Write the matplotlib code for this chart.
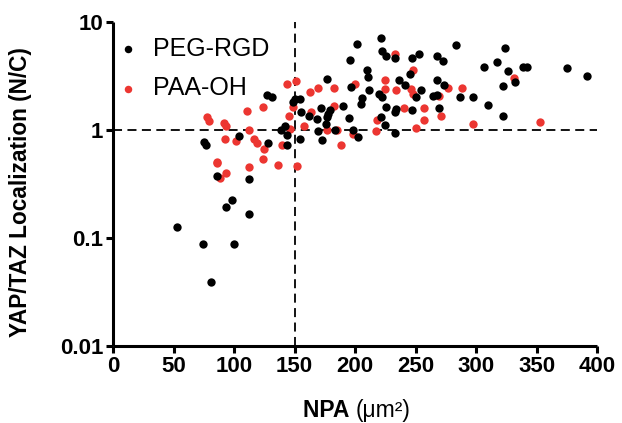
import matplotlib
matplotlib.use("Agg")
import matplotlib.pyplot as plt
from matplotlib.ticker import FixedLocator, FixedFormatter, NullLocator

plt.rcParams['font.family'] = ['Liberation Sans', 'DejaVu Sans']

# PEG-RGD (black)
peg_x = [52.6, 74.1, 100, 80.7, 93.4, 98.3, 112.1, 85.4, 112.4, 75.2, 76.3, 103.9, 128.1,
         127, 131.4, 142, 139, 144, 143.5, 150, 154, 149, 155.6, 154, 172.1, 179.3, 190.3,
         162.2, 168.3, 176.6, 175.5, 177.7, 168.9, 183.2, 194.8, 198.1, 202.5, 172.7,
         177.1, 201.4, 195.9, 221, 222, 225.6, 209.6, 210.7, 196.4, 211.8, 206, 205, 220.1,
         222.5, 225.6, 224.5, 232.8, 247.1, 252.6, 267.5, 273, 283.5, 306.6, 245.5, 236.1,
         241, 254.3, 267.5, 273.6, 264.2, 268, 250.4, 286.8, 297.3, 233.9, 232.8, 246.6,
         269.1, 310, 221.2, 232.8, 323.7, 317.1, 326.4, 338.6, 341.9, 374.9, 391.5, 332,
         322, 322]
peg_y = [0.127, 0.088, 0.088, 0.039, 0.195, 0.225, 0.167, 0.375, 0.354, 0.77, 0.73, 0.88, 0.76,
         2.12, 2.03, 1.10, 1.00, 0.90, 0.73, 1.95, 1.95, 1.80, 1.48, 0.82, 1.59, 1.52, 1.68,
         1.34, 1.26, 1.32, 1.14, 1.42, 0.98, 1.01, 1.28, 1.01, 0.87, 0.80,
         2.97, 6.3, 4.48, 7.1, 5.35, 4.88, 3.62, 3.1, 2.5, 2.33, 1.98, 1.75, 2.17,
         2.0, 1.63, 1.11, 4.68, 4.68, 5.02, 4.88, 4.35, 6.13, 3.83, 3.32, 2.92,
         2.61, 2.36, 2.88, 2.61, 2.08, 2.11, 2.02, 2.02, 2.02, 1.56, 1.46, 1.52,
         1.59, 1.69, 1.32, 0.94, 5.7, 4.23, 3.52, 3.83, 3.83, 3.72, 3.18, 2.77,
         2.57, 1.34]

# PAA-OH (red)
paa_x = [151.2, 143.5, 123.7, 110.5, 77.9, 79, 91.2, 93.4, 112.1, 92.6, 101.7, 116, 118.7,
         124.8, 139.7, 146, 145.7, 149, 85.7, 86, 93.1, 87.9, 112.1, 124.2, 136.4, 152.3,
         162.8, 168.9, 182.6, 200.2, 225, 225, 157.3, 163.4, 182.6, 176.6, 185.4, 188.7,
         198.1, 217.4, 218.4, 233.3, 247.7, 233.9, 246, 247.7, 276.9, 288.4, 269.1, 240.5,
         257, 257, 271.3, 250.4, 297.8, 331.4, 352.9]
paa_y = [2.87, 2.66, 1.64, 1.49, 1.33, 1.20, 1.17, 1.10, 1.01, 0.82, 0.79, 0.83, 0.75,
         0.67, 0.72, 1.02, 1.35, 1.62, 0.51, 0.49, 0.40, 0.36, 0.457, 0.543, 0.477, 0.46,
         2.23, 2.43, 2.43, 2.65, 2.92, 2.40, 1.08, 1.48, 1.66, 1.01, 1.01, 0.72,
         0.91, 0.98, 1.23, 5.10, 3.57, 2.33, 2.40, 2.14, 2.43, 2.43, 2.08, 1.59,
         1.59, 1.23, 1.34, 1.04, 1.14, 3.05, 1.18]

x_ticks = [0, 50, 100, 150, 200, 250, 300, 350, 400]
y_ticks = [0.01, 0.1, 1, 10]
y_tick_labels = ["0.01", "0.1", "1", "10"]
series_names = ["PEG-RGD", "PAA-OH"]
x_threshold = 150
y_threshold = 1

fig = plt.figure(figsize=(6.22, 4.23), dpi=100)
ax = fig.add_axes([0.182, 0.182, 0.778, 0.766])

red = '#EC3631'
ax.scatter(peg_x, peg_y, s=36, color='black', linewidths=0, label=series_names[0], zorder=3)
ax.scatter(paa_x, paa_y, s=36, color=red, linewidths=0, label=series_names[1], zorder=2)

ax.axvline(x_threshold, color='black', lw=1.3, ls=(0, (5, 3)), zorder=1)
ax.axhline(y_threshold, color='black', lw=1.3, ls=(0, (5, 3)), zorder=1)

ax.set_yscale('log')
ax.set_xlim(0, 400)
ax.set_ylim(0.01, 10)
ax.xaxis.set_major_locator(FixedLocator(x_ticks))
ax.yaxis.set_major_locator(FixedLocator(y_ticks))
ax.yaxis.set_major_formatter(FixedFormatter(y_tick_labels))
ax.yaxis.set_minor_locator(NullLocator())

for s in ['top', 'right']:
    ax.spines[s].set_visible(False)
for s in ['left', 'bottom']:
    ax.spines[s].set_linewidth(2.2)
    ax.spines[s].set_capstyle('butt')

ax.tick_params(axis='both', which='major', direction='out', length=5, width=2.2,
               labelsize=16, pad=2)
for lab in ax.get_xticklabels() + ax.get_yticklabels():
    lab.set_fontweight('bold')

ax.set_ylabel("YAP/TAZ Localization (N/C)", fontsize=16.3, fontweight='bold')
ax.yaxis.set_label_coords(-0.167, 0.475)

# x label: bold "NPA" + regular "(μm²)"
ax.text(0.5, -0.2, "NPA ", transform=ax.transAxes, fontsize=16.5, fontweight='bold',
        ha='right', va='center')
ax.text(0.5, -0.2, "(\u03bcm\u00b2)", transform=ax.transAxes, fontsize=16.5,
        ha='left', va='center')

leg = ax.legend(loc='upper left', bbox_to_anchor=(-0.005, 0.985), frameon=False,
                fontsize=18, handlelength=0.6, handletextpad=0.7, labelspacing=0.62,
                borderaxespad=0, markerscale=0.9)

fig.savefig("out.png", dpi=100)
